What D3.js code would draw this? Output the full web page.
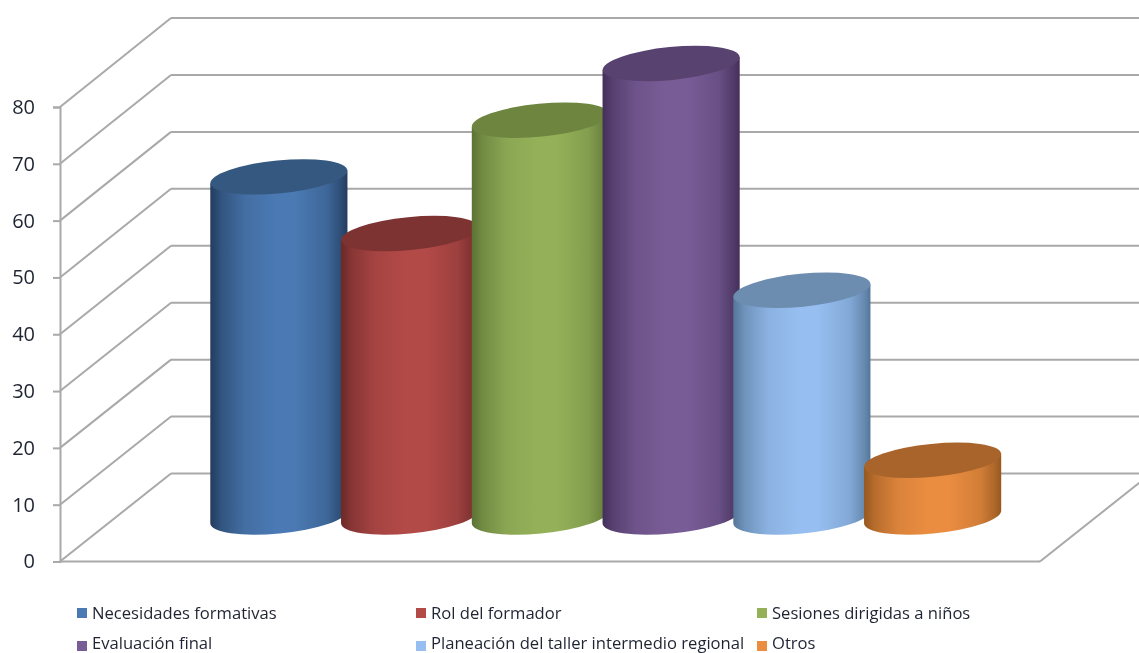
<!DOCTYPE html>
<html>
<head>
<meta charset="utf-8">
<script src="https://cdn.jsdelivr.net/npm/d3@7"></script>
<style>
    html, body { margin: 0; padding: 0; background: #fff; overflow: hidden; }
    svg { display: block; filter: blur(0.6px); }
    text { font-family: "Open Sans", sans-serif; fill: #1f2433; }
</style>
</head>
<body>
<div id="chart"></div>
<script>
// values
const categories = ["Necesidades formativas", "Rol del formador", "Sesiones dirigidas a niños",
    "Evaluación final", "Planeación del taller intermedio regional", "Otros"];
const seriesValues = [60, 50, 70, 80, 40, 10];
const tickValues = [0, 10, 20, 30, 40, 50, 60, 70, 80];

// shading per series: lit centre, dark edge, flat top
const centreColors = ["#4a79b3", "#b24a48", "#94b159", "#785c96", "#96bef0", "#ea8d41"];
const edgeColors = ["#223c5c", "#6b2928", "#5c7235", "#432f59", "#547698", "#96581f"];
const topColors = ["#34587f", "#7d3332", "#6d853f", "#584370", "#6c8cb0", "#a9642c"];

const width = 1139, height = 653;
const svg = d3.select("#chart").append("svg")
    .attr("width", width)
    .attr("height", height);

// front wall, back wall and mid depth (where the cylinders stand)
const yFront = d3.scaleLinear().domain([0, 80]).range([561.5, 107]);
const yBack = d3.scaleLinear().domain([0, 80]).range([473.5, 18]);
const yMid = d3.scaleLinear().domain([0, 80]).range([517, 63.5]);
const x = d3.scaleBand().domain(categories).range([213.5, 998]);

const frontX = 60, backX = 171, floorRight = 1040;
const gridColor = "#a9a9a9";

// Back wall lines and side wall diagonals
const grid = svg.append("g").attr("fill", "none").attr("stroke", gridColor).attr("stroke-width", 2);
grid.selectAll(".back")
    .data(tickValues)
    .enter().append("line")
    .attr("class", "back")
    .attr("x1", backX).attr("x2", width)
    .attr("y1", d => yBack(d)).attr("y2", d => yBack(d));
grid.selectAll(".side")
    .data(tickValues)
    .enter().append("line")
    .attr("class", "side")
    .attr("x1", frontX).attr("x2", backX)
    .attr("y1", d => yFront(d)).attr("y2", d => yBack(d));

// Floor front edge and right edge
grid.append("line")
    .attr("x1", frontX).attr("x2", floorRight)
    .attr("y1", yFront(0)).attr("y2", yFront(0));
grid.append("line")
    .attr("x1", floorRight).attr("x2", floorRight + backX - frontX)
    .attr("y1", yFront(0)).attr("y2", yBack(0));

// Y axis
const yAxis = svg.append("g")
    .attr("transform", `translate(${frontX},0)`)
    .call(d3.axisLeft(yFront).tickValues(tickValues).tickSize(7).tickPadding(18));
yAxis.selectAll("path, line").attr("stroke", gridColor).attr("stroke-width", 2);
yAxis.selectAll("text").style("font-size", "20px").attr("fill", "#1f2433");

// Gradients for the cylinder sides
const defs = svg.append("defs");
categories.forEach((c, i) => {
    const g = defs.append("linearGradient").attr("id", "side" + i);
    const mid = d3.interpolateRgb(edgeColors[i], centreColors[i]);
    [[0, 0], [0.08, 0.4], [0.25, 0.82], [0.47, 1], [0.62, 1], [0.85, 0.7], [0.96, 0.25], [1, 0]].forEach(s => {
        g.append("stop").attr("offset", s[0]).attr("stop-color", mid(s[1]));
    });
});

// Cylinders: tilted ellipse on top and at the base
const rx = 68.8, ry = 16.5, tilt = -5.6;
const halfW = x.bandwidth() / 2 + 3.2;
const slope = 6.5;

const bars = svg.selectAll(".bar")
    .data(seriesValues)
    .enter().append("g")
    .attr("class", "bar");

bars.append("path")
    .attr("fill", (d, i) => `url(#side${i})`)
    .attr("d", (d, i) => {
        const c = x(categories[i]) + x.bandwidth() / 2;
        const yt = yMid(d), yb = yMid(0);
        return `M${c - halfW},${yt + slope} L${c - halfW},${yb + slope} ` +
            `A${rx},${ry} ${tilt} 0 0 ${c + halfW},${yb - slope} L${c + halfW},${yt - slope} Z`;
    });

bars.append("ellipse")
    .attr("fill", (d, i) => topColors[i])
    .attr("rx", rx)
    .attr("ry", ry)
    .attr("transform", (d, i) => `translate(${x(categories[i]) + x.bandwidth() / 2},${yMid(d)}) rotate(${tilt})`);

// Legend
const legendCols = [77, 416, 757];
const legendRows = [613, 646];
const legendBaselines = [6, 2.5];
const legend = svg.selectAll(".legend")
    .data(categories)
    .enter().append("g")
    .attr("class", "legend")
    .attr("transform", (d, i) => `translate(${legendCols[i % 3]},${legendRows[Math.floor(i / 3)]})`);
legend.append("rect")
    .attr("x", 0).attr("y", -5)
    .attr("width", 10).attr("height", 10)
    .attr("fill", (d, i) => centreColors[i]);
legend.append("text")
    .attr("x", 15)
    .attr("y", (d, i) => legendBaselines[Math.floor(i / 3)])
    .style("font-size", "16.6px")
    .text(d => d);
</script>
</body>
</html>
